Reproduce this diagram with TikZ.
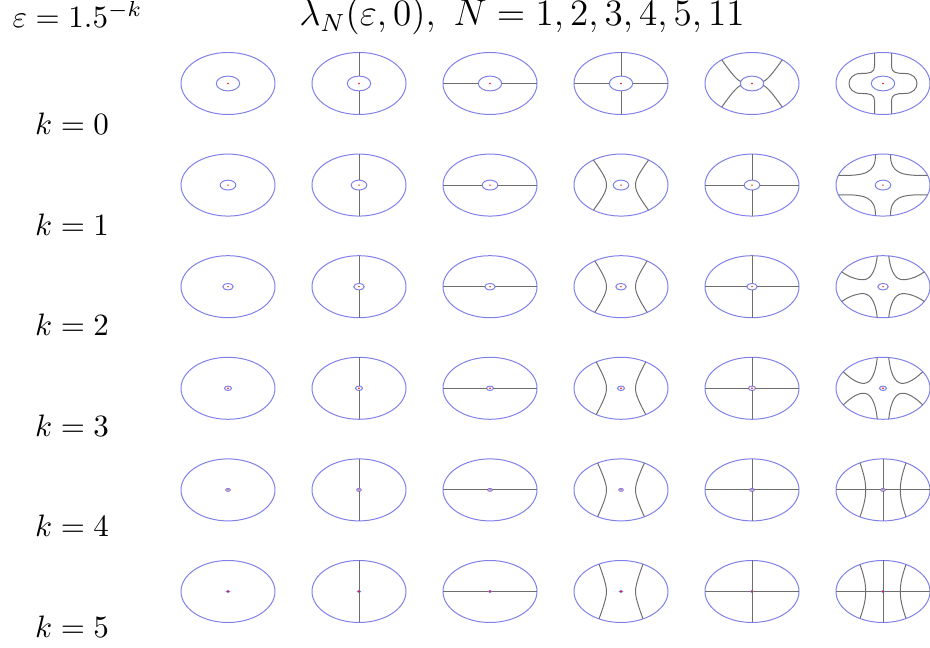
\documentclass[tikz,border=0pt]{standalone}
\usepackage{amsmath}
\definecolor{rimblue}{RGB}{128,128,235}
\definecolor{nodalgray}{RGB}{110,110,110}

% nodal lines of one cell, drawn about the cell centre
\newcommand{\vcut}{\draw[nodal] (0,-31) -- (0,-\bi) (0,\bi) -- (0,31);}
\newcommand{\hcut}{\draw[nodal] (-47,0) -- (-\ai,0) (\ai,0) -- (47,0);}
\newcommand{\bowpair}{%
  \pgfmathsetmacro{\xt}{29-1.4*\k}
  \pgfmathsetmacro{\yt}{31*sqrt(1-(\xt/47)^2)}
  \foreach \s in {1,-1}
    \draw[nodal, xscale=\s] (-\xt,-\yt) .. controls (-15.5,{-0.35*\yt}) and (-14.5,-4) .. (-14.5,0)
      .. controls (-14.5,4) and (-15.5,{0.35*\yt}) .. (-\xt,\yt);}
\newcommand{\xcurves}{%
  \foreach \sx/\sy in {1/1,-1/1,1/-1,-1/-1}
    \draw[nodal, xscale=\sx, yscale=\sy] (-30.3,-23.7) .. controls (-22,-12) and (-16,-4) .. (-11.3,-2);}
\newcommand{\brackets}{%
  \foreach \s in {1,-1}
    \draw[nodal, xscale=\s] (-8.5,-30.4) -- (-8.5,-17) .. controls (-8.5,-11) and (-13,-10) .. (-22,-10)
      .. controls (-38,-10) and (-38,10) .. (-22,10) .. controls (-13,10) and (-8.5,11) .. (-8.5,17) -- (-8.5,30.4);}
\newcommand{\cornerarcs}[1]{%
  \foreach \sx/\sy in {1/1,-1/1,1/-1,-1/-1}
    \draw[nodal, xscale=\sx, yscale=\sy] #1;}
\newcommand{\inbows}{%
  \foreach \s in {1,-1}
    \draw[nodal, xscale=\s] (-23,-27) .. controls (-18.5,-14) and (-17.3,-7) .. (-17.3,0)
      .. controls (-17.3,7) and (-18.5,14) .. (-23,27);}

\begin{document}
\begin{tikzpicture}[x=0.3226pt, y=-0.3226pt, rim/.style={rimblue, line width=0.32pt}, nodal/.style={nodalgray, line width=0.32pt}, lbl/.style={font=\normalsize, inner sep=0pt}]
\useasboundingbox (0,0) rectangle (930,648);

\node[lbl, anchor=base west] (eps) at (12,28) {$\varepsilon=1.5^{-k}$};
\node[lbl, anchor=base, font=\fontsize{11.5}{14}\selectfont] (title) at (522,26) {$\lambda_N(\varepsilon,0),\ N=1,2,3,4,5,11$};

\foreach \k in {0,...,5} {
  \pgfmathsetmacro{\cy}{83.5+101.6*\k}
  \pgfmathsetmacro{\ai}{11.7*1.5^(-\k)}
  \pgfmathsetmacro{\bi}{7.4*1.5^(-\k)}
  \node[lbl, anchor=base] (k\k) at (72,{135+100.5*\k}) {$k=\k$};
  \foreach \c in {1,...,6} {
    \pgfmathsetmacro{\cx}{228+131*(\c-1)}
    \begin{scope}[shift={(\cx,\cy)}]
      \draw[rim] (0,0) ellipse [x radius=47, y radius=31];
      \draw[rim] (0,0) ellipse [x radius=\ai, y radius=\bi];
      \fill[red] (0,0) circle [radius=0.8];
      \ifnum\c=2 \vcut\fi
      \ifnum\c=3 \hcut\fi
      \ifnum\c=4 \ifnum\k=0 \vcut\hcut\else\bowpair\fi\fi
      \ifnum\c=5 \ifnum\k=0 \xcurves\else\vcut\hcut\fi\fi
      \ifnum\c=6
        \ifcase\k \brackets
        \or \cornerarcs{(-7.5,-30.3) .. controls (-7.5,-12) and (-18,-9) .. (-44.6,-9.8)}
        \or \cornerarcs{(-5.7,-30.8) .. controls (-8,-12) and (-14,-6) .. (-22,-7) .. controls (-30,-8) and (-36,-11) .. (-41.3,-14.8)}
        \or \cornerarcs{(-5.7,-30.8) .. controls (-8,-10) and (-14,-4) .. (-21,-5) .. controls (-28,-6) and (-35,-12) .. (-39.7,-16.6)}
        \else \vcut\hcut\inbows
        \fi
      \fi
    \end{scope}
  }
}
\end{tikzpicture}
\end{document}
